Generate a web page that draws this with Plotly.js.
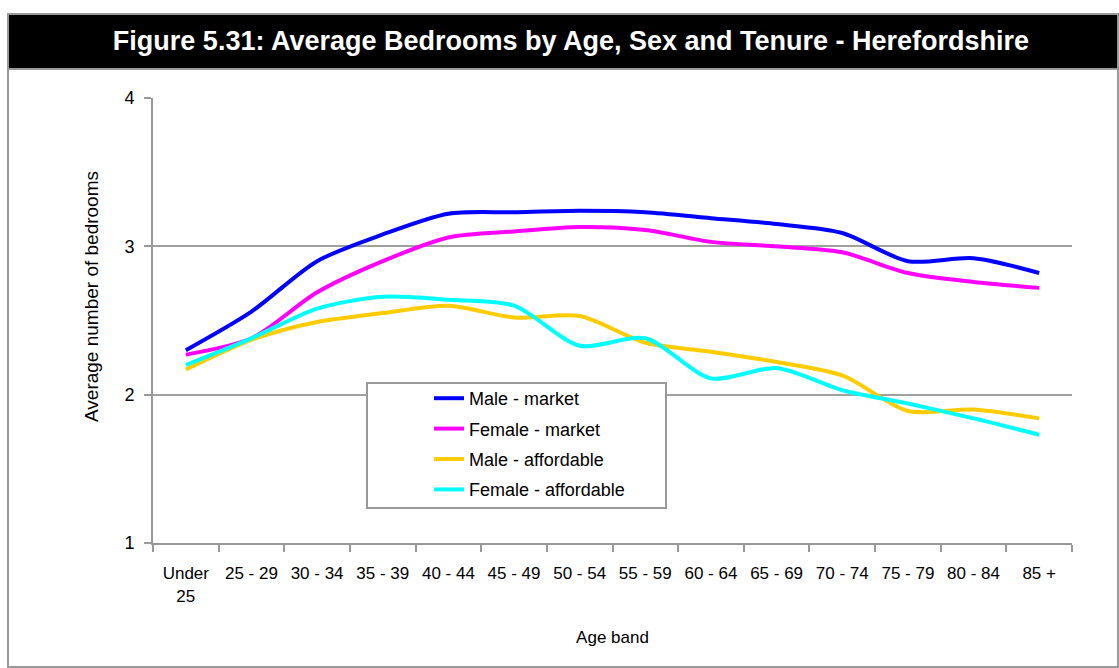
<!DOCTYPE html>
<html><head><meta charset="utf-8">
<script src="https://cdn.plot.ly/plotly-3.0.1.min.js"></script>
<style>html,body{margin:0;padding:0;background:#fff;} #chart{width:1119px;height:668px;}</style>
</head><body><div id="chart"></div>
<script>
const ageBands = ["Under<br>25","25 - 29","30 - 34","35 - 39","40 - 44","45 - 49","50 - 54","55 - 59","60 - 64","65 - 69","70 - 74","75 - 79","80 - 84","85 +"];
const maleMarket       = [2.30, 2.56, 2.90, 3.08, 3.22, 3.23, 3.24, 3.23, 3.19, 3.15, 3.09, 2.90, 2.92, 2.82];
const femaleMarket     = [2.27, 2.38, 2.69, 2.90, 3.06, 3.10, 3.13, 3.11, 3.03, 3.00, 2.96, 2.82, 2.76, 2.72];
const maleAffordable   = [2.17, 2.37, 2.49, 2.55, 2.60, 2.52, 2.53, 2.35, 2.29, 2.22, 2.13, 1.89, 1.90, 1.84];
const femaleAffordable = [2.20, 2.38, 2.58, 2.66, 2.64, 2.60, 2.33, 2.38, 2.11, 2.18, 2.03, 1.94, 1.84, 1.73];
const seriesNames  = ["Male - market","Female - market","Male - affordable","Female - affordable"];
const seriesColors = ["#0000FF","#FF00FF","#FFCC00","#00FFFF"];
const seriesValues = [maleMarket, femaleMarket, maleAffordable, femaleAffordable];
const yTitle = "Average number of bedrooms";
const xTitle = "Age band";

const W = 1119, H = 668, L = 153, R = 1072, T = 98, B = 543;
const px = x => (x - L) / (R - L);
const py = y => (B - y) / (B - T);
const FONT = "Arial, 'Liberation Sans', sans-serif";

const traces = seriesValues.map((vals, i) => ({
  type: "scatter", mode: "lines", x: ageBands, y: vals, name: seriesNames[i],
  legendgroup: "g" + i,
  line: {color: seriesColors[i], width: 4, shape: "spline", smoothing: 0.8},
  hoverinfo: "skip"
}));

const layout = {
  width: W, height: H,
  margin: {l: L, r: W - R, t: T, b: H - B},
  paper_bgcolor: "#fff", plot_bgcolor: "rgba(0,0,0,0)",
  font: {family: FONT, size: 17, color: "#000"},
  title: {text: "<b>Figure 5.31: Average Bedrooms by Age, Sex and Tenure - Herefordshire</b>",
          font: {family: FONT, size: 27, color: "#fff"},
          x: 571 / W, xref: "container", xanchor: "center",
          y: 1 - 41 / H, yref: "container", yanchor: "middle"},
  xaxis: {type: "category", range: [-0.5, 13.5], tickson: "boundaries", ticks: "outside", ticklen: 7, tickwidth: 2,
          tickcolor: "#999", showline: true, linecolor: "#999", linewidth: 2, showgrid: false,
          ticklabelstandoff: 14,
          tickfont: {family: FONT, size: 17}, fixedrange: true,
          title: {text: xTitle, font: {family: FONT, size: 17}, standoff: 27}},
  yaxis: {range: [1, 4], dtick: 1, ticks: "outside", ticklen: 7, tickwidth: 2, tickcolor: "#999",
          showline: true, linecolor: "#999", linewidth: 2, gridcolor: "#a0a0a0", gridwidth: 2,
          ticklabelstandoff: 6,
          zeroline: false, tickfont: {family: FONT, size: 18}, fixedrange: true},
  annotations: [
    {text: yTitle, xref: "paper", yref: "paper", x: px(91), y: py(297), xanchor: "center", yanchor: "middle",
     textangle: -90, showarrow: false, font: {family: FONT, size: 19, color: "#000"}}
  ],
  legend: {x: px(429), y: py(380), xanchor: "left", yanchor: "top", bgcolor: "rgba(0,0,0,0)",
           borderwidth: 0, font: {family: FONT, size: 18}, traceorder: "grouped", tracegroupgap: 4},
  shapes: [
    {type: "rect", xref: "paper", yref: "paper", x0: px(8), x1: px(1118), y0: py(667), y1: py(14),
     line: {color: "#999", width: 2}, fillcolor: "rgba(0,0,0,0)", layer: "below"},
    {type: "rect", xref: "paper", yref: "paper", x0: px(8), x1: px(1118), y0: py(69), y1: py(14),
     line: {color: "#999", width: 2}, fillcolor: "#000", layer: "below"},
    {type: "rect", xref: "paper", yref: "paper", x0: px(367), x1: px(666), y0: py(508), y1: py(383),
     line: {color: "#999", width: 2}, fillcolor: "#fff", layer: "above"}
  ]
};
Plotly.newPlot("chart", traces, layout, {staticPlot: true, displayModeBar: false});
</script></body></html>
